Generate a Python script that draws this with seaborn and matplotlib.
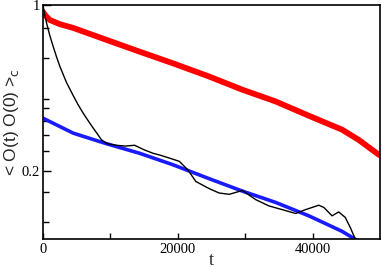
import matplotlib
matplotlib.use("Agg")
import matplotlib.pyplot as plt
import matplotlib.ticker as mticker
import seaborn as sns
import pandas as pd

# Data
red_t = [0, 400, 1000, 2500, 4500, 9400, 14300, 19250, 24660, 29590, 34500, 39440, 44360, 46820, 49780, 50500]
red_v = [0.935, 0.90, 0.865, 0.83, 0.80, 0.713, 0.636, 0.568, 0.499, 0.439, 0.392, 0.341, 0.298, 0.270, 0.234, 0.228]

blue_t = [0, 4480, 9400, 14300, 19250, 24660, 29590, 34500, 39440, 44360, 46500, 47000]
blue_v = [0.333, 0.288, 0.260, 0.237, 0.212, 0.185, 0.164, 0.147, 0.129, 0.111, 0.102, 0.099]

black_t = [0, 250, 540, 1000, 1520, 2000, 2510, 3500, 4480, 5200, 5950, 6700, 7430, 8100, 8670, 9500,
           10880, 12200, 13590, 15000, 16300, 17500, 18760,
           20230, 21460, 22690, 24660, 26140, 27620, 29590, 31560, 33530, 35500, 37470,
           38950, 40920, 41660, 42890, 43870, 44850, 45600, 46330, 46700]
black_v = [1.0, 0.91, 0.837, 0.745, 0.667, 0.605, 0.55, 0.47, 0.415, 0.38, 0.35, 0.325, 0.303, 0.285, 0.270, 0.260,
           0.256, 0.254, 0.256, 0.245, 0.237, 0.232, 0.226,
           0.219, 0.202, 0.180, 0.168, 0.161, 0.159, 0.165, 0.151, 0.142, 0.137, 0.132,
           0.137, 0.143, 0.140, 0.129, 0.134, 0.127, 0.115, 0.103, 0.098]

x_major = [0, 20000, 40000]
x_minor = [10000, 30000]
y_major = [0.2, 1.0]
y_major_labels = ["0.2", "1"]
y_minor = [0.8, 0.6, 0.4, 0.368, 0.325, 0.284, 0.243, 0.163, 0.122]

sns.set_style("white")
plt.rcParams['font.family'] = ['Liberation Serif', 'DejaVu Serif']

fig = plt.figure(figsize=(3.82, 2.69), dpi=100)
ax = fig.add_axes([43/382, 1-239/269, 337/382, 234/269])

df_red = pd.DataFrame({"t": red_t, "v": red_v})
df_blue = pd.DataFrame({"t": blue_t, "v": blue_v})
df_black = pd.DataFrame({"t": black_t, "v": black_v})

sns.lineplot(data=df_red, x="t", y="v", ax=ax, color="#ff0000", linewidth=4.2, sort=False)
sns.lineplot(data=df_blue, x="t", y="v", ax=ax, color="#1a1aff", linewidth=2.6, sort=False)
sns.lineplot(data=df_black, x="t", y="v", ax=ax, color="black", linewidth=1.0, sort=False)

ax.set_yscale("log")
ax.set_xlim(0, 50000)
ax.set_ylim(0.103, 1.0)

ax.yaxis.set_major_locator(mticker.FixedLocator(y_major))
ax.yaxis.set_major_formatter(mticker.FixedFormatter(y_major_labels))
ax.yaxis.set_minor_locator(mticker.FixedLocator(y_minor))
ax.yaxis.set_minor_formatter(mticker.NullFormatter())
ax.xaxis.set_major_locator(mticker.FixedLocator(x_major))
ax.xaxis.set_minor_locator(mticker.FixedLocator(x_minor))
ax.xaxis.set_major_formatter(mticker.FuncFormatter(lambda v, p: f"{int(v)}"))

ax.tick_params(axis="both", which="both", direction="in", top=False, right=False,
               left=True, bottom=True, colors="black", width=1.0)
ax.tick_params(axis="y", which="major", length=6, labelsize=10.5, pad=2)
ax.tick_params(axis="y", which="minor", length=4)
ax.tick_params(axis="x", which="major", length=4, labelsize=10.5, pad=3)
ax.tick_params(axis="x", which="minor", length=4)

for s in ax.spines.values():
    s.set_color("black")
    s.set_linewidth(1.2)

ax.set_xlabel("t", fontsize=13, labelpad=-3)
ax.set_ylabel(r"< O(t) O(0) >$_{\rm c}$", fontsize=12.5, family=['Liberation Sans', 'DejaVu Sans'])
ax.yaxis.set_label_coords(-0.065, 0.5)

fig.savefig("out.png", dpi=100)
